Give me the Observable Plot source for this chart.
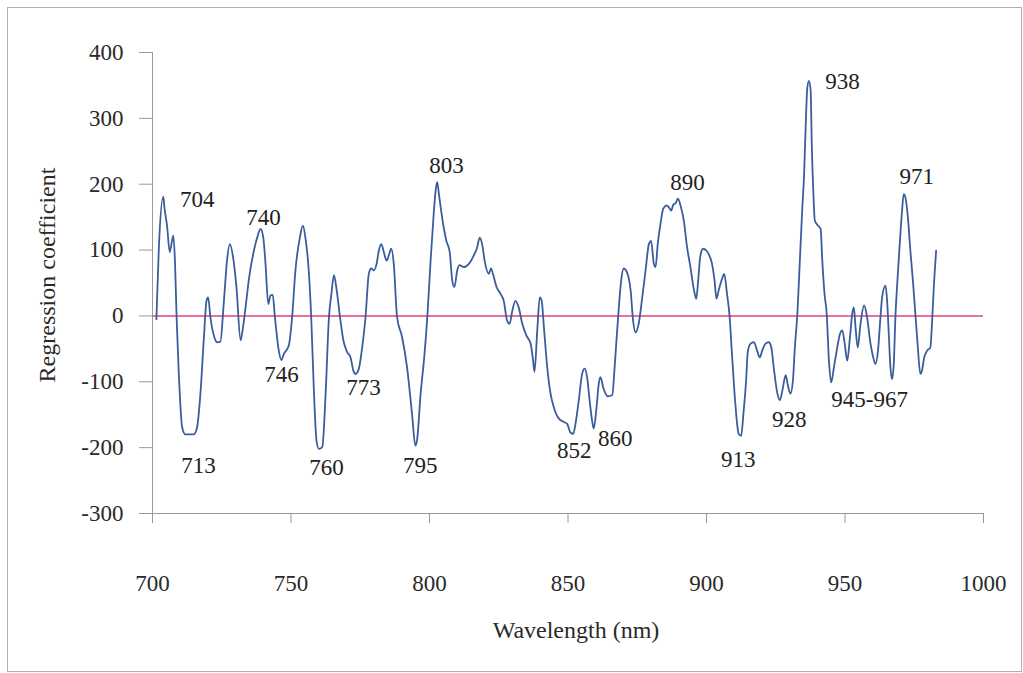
<!DOCTYPE html>
<html>
<head>
<meta charset="utf-8">
<script src="https://cdn.jsdelivr.net/npm/d3@7"></script>
<script src="https://cdn.jsdelivr.net/npm/@observablehq/plot@0.6"></script>
<style>
  html, body { margin: 0; padding: 0; background: #fff; }
  #wrap { position: relative; width: 1023px; height: 673px; }
  #frame { position: absolute; left: 7px; top: 7px; width: 1013px; height: 663px; border: 1px solid #b0b0b0; pointer-events: none; }
</style>
</head>
<body>
<div id="wrap"><div id="frame"></div></div>
<script>
const wavelength = [701.4,702.3,703.9,704.3,705.3,706.2,707.5,708.1,708.7,709.5,710.7,711.9,714.9,716.1,717.3,718.5,719.5,720.1,720.9,722.3,723.3,724.5,725.7,726.9,727.9,729.1,730.3,731.8,732.4,733.6,734.8,736.6,737.8,739.0,740.0,740.8,741.8,742.6,743.4,744.2,745.6,746.5,747.4,749.2,750.4,751.6,753.2,754.3,755.2,756.4,757.3,758.3,759.2,760.1,761.3,762.5,763.7,764.6,765.5,766.5,767.7,768.9,770.3,771.5,772.5,773.3,774.5,775.7,776.9,778.1,779.0,779.9,780.9,781.7,782.6,783.5,784.5,785.3,786.2,787.1,788.3,790.1,791.9,793.7,794.9,795.5,796.8,798.2,799.2,800.4,801.6,802.2,802.8,803.4,804.2,805.1,806.1,807.3,808.2,809.0,810.0,810.9,812.4,814.2,816.0,817.2,818.1,819.0,819.9,821.4,822.2,822.9,824.2,825.6,826.8,828.0,828.9,829.9,831.0,832.2,833.5,835.0,836.5,837.4,837.9,838.9,839.8,840.5,841.3,842.5,843.7,844.9,846.7,848.5,849.7,850.9,851.9,852.7,853.9,855.1,856.0,856.9,857.8,858.7,859.3,860.3,861.1,861.7,862.8,864.3,866.0,866.8,867.5,868.3,869.2,870.1,871.3,872.6,873.5,874.4,875.6,876.8,878.0,879.2,880.0,881.0,881.6,882.4,883.4,884.4,885.6,886.4,887.3,888.0,888.8,889.7,890.6,891.8,893.0,894.2,895.4,896.3,897.0,897.8,898.8,900.0,900.8,902.0,902.9,903.6,904.4,905.6,906.4,907.4,908.3,909.2,910.4,911.6,912.5,913.4,914.3,914.9,915.9,917.1,918.3,919.2,920.1,921.3,922.5,923.4,924.4,925.6,926.5,927.4,928.6,929.4,930.3,931.2,931.9,932.8,933.7,934.6,935.2,935.8,936.4,937.0,937.6,938.0,938.6,939.1,940.3,941.2,941.8,942.6,943.4,944.2,945.0,946.0,947.2,948.2,949.0,949.9,950.8,951.8,952.6,953.2,953.8,954.6,955.6,956.9,957.9,959.2,960.2,961.0,961.9,962.8,963.4,964.6,965.2,965.8,966.4,967.0,967.6,968.2,969.0,970.0,970.6,971.2,971.8,972.7,973.6,974.6,975.4,976.2,977.2,977.8,978.6,979.6,980.8,981.4,982.0,982.9];
const coefficient = [-5,104,181,165,135,97,122,84,-2,-88,-169,-180,-180,-169,-118,-37,23,28,-2,-32,-40,-39,18,84,109,89,44,-37,-25,13,56,99,119,132,119,79,18,31,32,-2,-53,-67,-58,-45,-2,69,119,137,119,69,-2,-118,-189,-202,-199,-118,-2,34,62,39,-2,-37,-55,-63,-83,-88,-80,-48,-2,64,72,69,79,99,109,97,84,92,102,79,-2,-32,-78,-149,-197,-189,-118,-58,-2,84,160,190,203,185,160,135,114,97,54,44,69,77,74,79,92,104,119,109,84,64,72,64,44,34,23,-7,-12,8,23,13,-12,-30,-42,-68,-85,-22,28,23,-17,-78,-118,-139,-156,-161,-164,-177,-179,-164,-128,-88,-80,-93,-128,-159,-171,-139,-103,-93,-110,-122,-120,-80,-37,10,54,72,66,39,-7,-25,-10,28,69,109,114,79,74,109,140,163,168,165,160,169,171,178,168,145,104,74,41,26,54,92,102,99,94,79,54,26,39,56,64,34,1,-58,-133,-179,-182,-145,-98,-55,-42,-40,-53,-63,-53,-42,-40,-48,-83,-118,-128,-113,-90,-106,-118,-98,-48,3,84,165,211,287,347,357,342,261,185,145,137,132,84,34,3,-68,-101,-78,-48,-27,-22,-42,-68,-32,3,13,-17,-48,-12,16,0,-42,-63,-73,-53,-2,28,46,23,-27,-78,-96,-73,-2,59,125,160,185,180,150,99,49,3,-42,-88,-83,-63,-53,-48,-12,39,99];

const peakLabels = ["704","740","746","713","760","773","795","803","852","860","890","913","928","938","945-967","971"];
const peakLabelX = [716.2,740.1,746.6,716.6,762.8,776.2,796.7,806.1,852.3,867.1,893.1,911.5,929.9,949.1,958.9,975.9];
const peakLabelY = [177,150,-89,-228,-230,-109,-227,228,-204,-186,202,-218,-157,356,-127,211];

const xTicks = [700,750,800,850,900,950,1000];
const yTicks = [-300,-200,-100,0,100,200,300,400];

const series = wavelength.map((w, i) => ({w, c: coefficient[i]}));
const labels = peakLabels.map((t, i) => ({t, x: peakLabelX[i], y: peakLabelY[i]}));
const serif = "Liberation Serif";

const chart = Plot.plot({
  width: 1023,
  height: 673,
  marginLeft: 152,
  marginRight: 40,
  marginTop: 52,
  marginBottom: 160,
  style: {fontFamily: serif, fontSize: "23px", background: "transparent"},
  x: {domain: [700, 1000]},
  y: {domain: [-300, 400]},
  marks: [
    Plot.ruleX([700], {stroke: "#9a9a9a", strokeWidth: 1}),
    Plot.ruleY([-300], {stroke: "#9a9a9a", strokeWidth: 1}),
    Plot.axisY({ticks: yTicks, tickFormat: d => String(d), tickSize: 13, tickPadding: 16, stroke: "#9a9a9a", fill: "#2a2a2a", fontSize: 23, fontFamily: serif, label: null}),
    Plot.axisX({ticks: xTicks, tickFormat: d => String(d), tickSize: 10, tickPadding: 51, stroke: "#9a9a9a", fill: "#2a2a2a", fontSize: 23, fontFamily: serif, label: null}),
    Plot.ruleY([0], {stroke: "#e2457c", strokeWidth: 1.6}),
    Plot.line(series, {x: "w", y: "c", stroke: "#3a5d9c", strokeWidth: 1.8, curve: "monotone-x"}),
    Plot.text(labels, {x: "x", y: "y", text: "t", fill: "#222", fontSize: 23, fontFamily: serif, textAnchor: "middle", lineAnchor: "middle"}),
    Plot.text(["Wavelength (nm)"], {frameAnchor: "bottom", dx: 8, dy: 117, textAnchor: "middle", lineAnchor: "middle", fill: "#2a2a2a", fontSize: 24, fontFamily: serif}),
    Plot.text(["Regression coefficient"], {frameAnchor: "left", rotate: -90, dx: -105, dy: -8, textAnchor: "middle", lineAnchor: "middle", fill: "#2a2a2a", fontSize: 24, fontFamily: serif})
  ]
});
document.getElementById("wrap").prepend(chart);
</script>
</body>
</html>
